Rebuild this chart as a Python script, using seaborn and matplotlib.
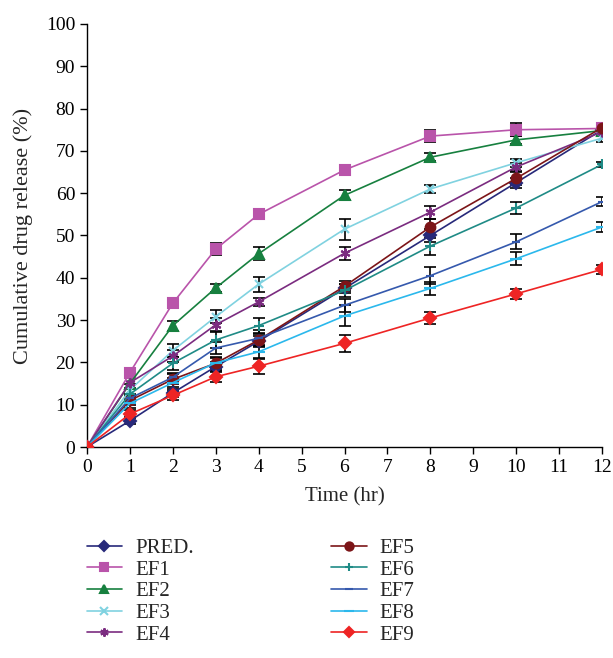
import numpy as np
import pandas as pd
import seaborn as sns
import matplotlib.pyplot as plt

# sampling times (hr)
time = [0, 1, 2, 3, 4, 6, 8, 10, 12]

# cumulative release (%)
pred = [0, 6.2, 12.8, 19.0, 25.0, 37.5, 50.0, 62.5, 75.0]
ef1 = [0, 17.6, 34.0, 46.8, 55.0, 65.5, 73.5, 75.0, 75.3]
ef2 = [0, 15.0, 28.7, 37.6, 45.7, 59.5, 68.5, 72.6, 74.8]
ef3 = [0, 13.5, 22.8, 30.8, 38.5, 51.5, 61.0, 67.2, 73.0]
ef4 = [0, 15.2, 21.5, 28.9, 34.3, 45.8, 55.5, 66.2, 74.5]
ef5 = [0, 11.0, 16.0, 19.8, 25.3, 38.0, 52.0, 63.5, 75.5]
ef6 = [0, 12.5, 19.8, 25.3, 28.7, 37.0, 47.5, 56.5, 66.8]
ef7 = [0, 11.5, 16.5, 23.4, 25.7, 33.5, 40.5, 48.5, 58.0]
ef8 = [0, 10.3, 15.2, 19.9, 22.5, 31.0, 37.5, 44.5, 52.0]
ef9 = [0, 7.8, 12.2, 16.6, 19.1, 24.5, 30.5, 36.2, 42.0]

# standard deviations (error bars)
sd_pred = [0, 0.8, 1.0, 1.0, 1.2, 1.0, 1.5, 1.2, 1.0]
sd_ef1 = [0, 1.0, 1.0, 1.5, 1.2, 1.0, 1.5, 1.5, 0.8]
sd_ef2 = [0, 1.2, 1.2, 1.0, 1.5, 1.2, 1.0, 1.0, 0.8]
sd_ef3 = [0, 1.5, 1.5, 1.5, 1.8, 2.5, 1.0, 1.0, 1.0]
sd_ef4 = [0, 1.5, 1.5, 1.5, 1.0, 1.5, 1.5, 1.0, 1.0]
sd_ef5 = [0, 1.0, 1.2, 1.5, 1.5, 1.2, 2.0, 1.5, 1.0]
sd_ef6 = [0, 1.5, 1.5, 2.0, 1.8, 1.5, 2.0, 1.5, 0.5]
sd_ef7 = [0, 1.0, 1.0, 1.5, 2.0, 1.5, 2.0, 1.8, 1.0]
sd_ef8 = [0, 1.0, 1.0, 1.2, 1.5, 2.5, 1.5, 1.5, 1.2]
sd_ef9 = [0, 1.0, 1.0, 1.2, 1.8, 2.0, 1.5, 1.2, 1.0]

names = ["PRED.", "EF1", "EF2", "EF3", "EF4", "EF5", "EF6", "EF7", "EF8", "EF9"]
series = [pred, ef1, ef2, ef3, ef4, ef5, ef6, ef7, ef8, ef9]
sds = [sd_pred, sd_ef1, sd_ef2, sd_ef3, sd_ef4, sd_ef5, sd_ef6, sd_ef7, sd_ef8, sd_ef9]

colors = ["#27297a", "#b954aa", "#17803f", "#80d2e0", "#7b2c80",
          "#7c1518", "#1f8b86", "#3559ad", "#2bb8ec", "#ee2424"]
markers = ["D", "s", "^", "x", (6, 2, 0), "o", "+", "_", "_", "D"]
msizes = [6, 7, 7, 6, 7, 7, 7, 6, 8, 6.5]

rows = []
for n, vals in zip(names, series):
    for t, v in zip(time, vals):
        rows.append({"Time": t, "Release": v, "Formulation": n})
df = pd.DataFrame(rows)

sns.set_style("ticks")
plt.rcParams['font.family'] = ['Liberation Serif', 'DejaVu Serif']

fig = plt.figure(figsize=(6.13, 6.58), dpi=100)
ax = fig.add_axes([87 / 613, 1 - 447 / 658, 515 / 613, 423 / 658])

# error bars first, in black
for vals, sd in zip(series, sds):
    ax.errorbar(time, vals, yerr=sd, fmt="none", ecolor="black",
                elinewidth=1.2, capsize=4, capthick=1.2, zorder=2)

for n, vals, c, m, ms in zip(names, series, colors, markers, msizes):
    sub = df[df["Formulation"] == n]
    sns.lineplot(data=sub, x="Time", y="Release", ax=ax, color=c, marker=m,
                 markersize=ms, markeredgecolor=c, markeredgewidth=1.5,
                 linewidth=1.2, label=n, zorder=3)

ax.set_xlim(0, 12)
ax.set_ylim(0, 100)
ax.set_xticks(range(0, 13))
ax.set_yticks(range(0, 101, 10))
ax.tick_params(labelsize=14, direction="out", length=5, width=1, colors="black")
ax.set_xlabel("Time (hr)", fontsize=15, labelpad=8)
ax.set_ylabel("Cumulative drug release (%)", fontsize=16, labelpad=9)
sns.despine(ax=ax)
for s in ["left", "bottom"]:
    ax.spines[s].set_color("black")
    ax.spines[s].set_linewidth(1)

ax.legend(loc="upper left", bbox_to_anchor=(-0.037, -0.172), ncol=2,
          frameon=False, fontsize=15, handlelength=1.7, columnspacing=6.6,
          labelspacing=0.1, handletextpad=0.62, markerscale=0.85)

fig.savefig("out.png", dpi=100)
